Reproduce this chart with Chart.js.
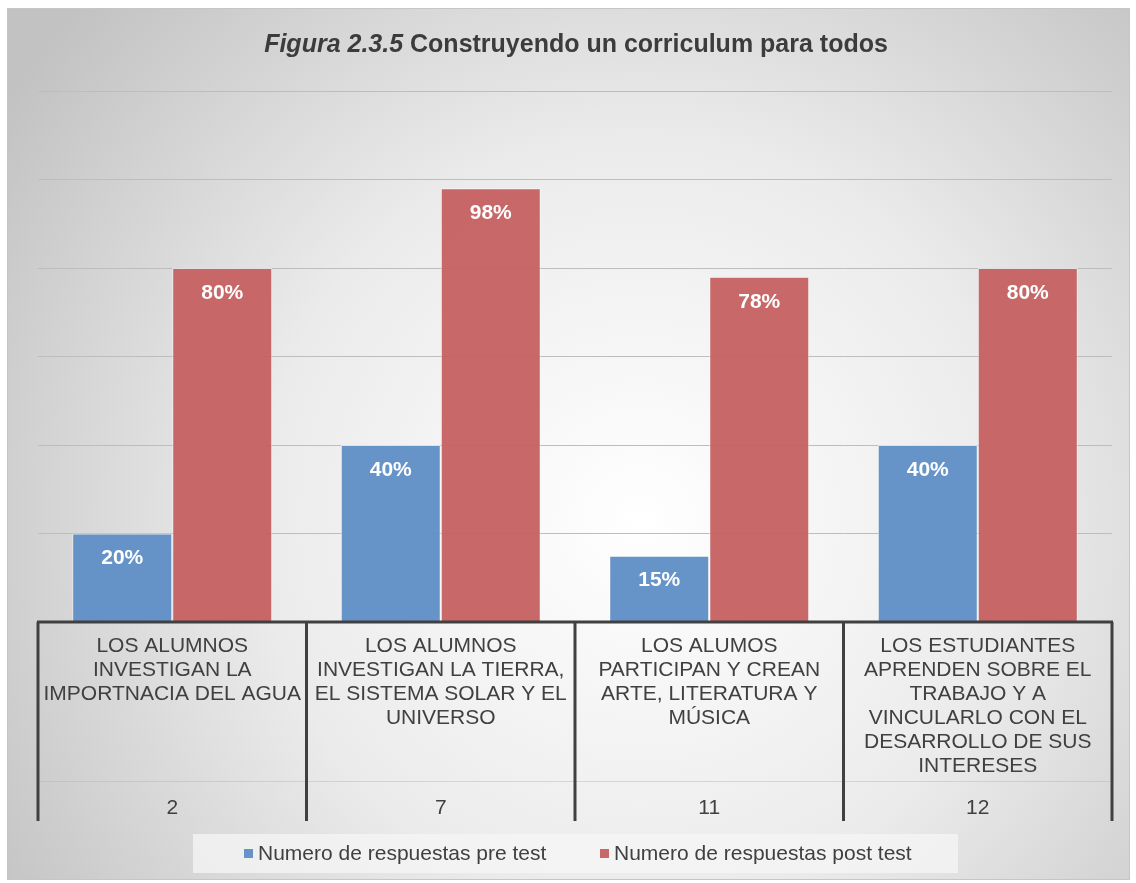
<!DOCTYPE html>
<html>
<head>
<meta charset="utf-8">
<script src="https://cdn.jsdelivr.net/npm/chart.js@4.4.0/dist/chart.umd.min.js"></script>
<style>
  html, body { margin: 0; padding: 0; background: #fff; }
  #wrap { width: 1136px; height: 883px; position: relative; }
</style>
</head>
<body>
<div id="wrap"><canvas id="chart" width="1136" height="883"></canvas></div>
<script>
// ---- data ----
const categories = [
  ["LOS ALUMNOS", "INVESTIGAN LA", "IMPORTNACIA DEL AGUA"],
  ["LOS ALUMNOS", "INVESTIGAN LA TIERRA,", "EL SISTEMA SOLAR Y EL", "UNIVERSO"],
  ["LOS ALUMOS", "PARTICIPAN Y CREAN", "ARTE, LITERATURA Y", "MÚSICA"],
  ["LOS ESTUDIANTES", "APRENDEN SOBRE EL", "TRABAJO Y A", "VINCULARLO CON EL", "DESARROLLO DE SUS", "INTERESES"]
];
const groupNumbers = ["2", "7", "11", "12"];
const preTest = [0.20, 0.40, 0.15, 0.40];
const postTest = [0.80, 0.98, 0.78, 0.80];
const seriesNames = ["Numero de respuestas pre test", "Numero de respuestas post test"];
const yTicks = [0, 0.2, 0.4, 0.6, 0.8, 1.0, 1.2];

const BLUE = "rgba(98,145,198,0.97)";
const RED = "rgba(197,96,96,0.95)";
const TEXT = "#404040";
const FONT = '"Liberation Sans", Arial, sans-serif';

// frame + gradient background
const backgroundPlugin = {
  id: "bg",
  beforeDraw(chart) {
    const ctx = chart.ctx;
    ctx.save();
    ctx.fillStyle = "#fff";
    ctx.fillRect(0, 0, chart.width, chart.height);
    const g = ctx.createRadialGradient(640, 520, 0, 640, 520, 760);
    g.addColorStop(0, "#ffffff");
    g.addColorStop(0.5, "#ebebeb");
    g.addColorStop(1, "#c2c2c2");
    ctx.fillStyle = g;
    ctx.fillRect(7, 8, 1123, 872);
    ctx.strokeStyle = "#c6c6c6";
    ctx.lineWidth = 1;
    ctx.strokeRect(7.5, 8.5, 1122, 871);

    // title (mixed italic / bold)
    const a = "Figura 2.3.5";
    const b = " Construyendo un corriculum para todos";
    ctx.fillStyle = "#3c3c3c";
    ctx.textBaseline = "middle";
    ctx.font = "italic bold 25px " + FONT;
    const wa = ctx.measureText(a).width;
    ctx.font = "bold 25px " + FONT;
    const wb = ctx.measureText(b).width;
    let x = 576 - (wa + wb) / 2;
    ctx.font = "italic bold 25px " + FONT;
    ctx.textAlign = "left";
    ctx.fillText(a, x, 45);
    ctx.font = "bold 25px " + FONT;
    ctx.fillText(b, x + wa, 45);

    // legend box
    ctx.fillStyle = "rgba(245,245,245,0.75)";
    ctx.fillRect(193, 834, 765, 39);
    ctx.restore();
  }
};

// bar value labels, category axis and legend
const overlayPlugin = {
  id: "overlay",
  afterDatasetsDraw(chart) {
    const ctx = chart.ctx;
    ctx.save();
    ctx.font = "bold 21px " + FONT;
    ctx.fillStyle = "#fff";
    ctx.textAlign = "center";
    ctx.textBaseline = "middle";
    chart.data.datasets.forEach((ds, i) => {
      chart.getDatasetMeta(i).data.forEach((bar, j) => {
        ctx.fillText(Math.round(ds.data[j] * 100) + "%", bar.x, bar.y + 25);
      });
    });

    const xs = chart.scales.x;
    const area = chart.chartArea;
    const half = (xs.getPixelForValue(1) - xs.getPixelForValue(0)) / 2;

    // axis line
    ctx.strokeStyle = TEXT;
    ctx.lineWidth = 3;
    ctx.beginPath();
    ctx.moveTo(area.left - 1, area.bottom);
    ctx.lineTo(area.right + 1, area.bottom);
    ctx.stroke();

    // faint divider between the two label levels
    ctx.strokeStyle = "rgba(180,180,180,0.45)";
    ctx.lineWidth = 1;
    ctx.beginPath();
    ctx.moveTo(area.left, 781.5);
    ctx.lineTo(area.right, 781.5);
    ctx.stroke();

    // separators
    ctx.strokeStyle = TEXT;
    ctx.lineWidth = 3;
    for (let i = 0; i <= categories.length; i++) {
      const px = xs.getPixelForValue(i) - half;
      ctx.beginPath();
      ctx.moveTo(px, area.bottom);
      ctx.lineTo(px, 821);
      ctx.stroke();
    }

    // labels
    ctx.fillStyle = TEXT;
    ctx.font = "21px " + FONT;
    categories.forEach((lines, i) => {
      const cx = xs.getPixelForValue(i);
      lines.forEach((t, k) => ctx.fillText(t, cx, 646 + k * 24));
      ctx.fillText(groupNumbers[i], cx, 808);
    });

    // legend
    ctx.textAlign = "left";
    const items = [
      { x: 244, color: BLUE, label: seriesNames[0] },
      { x: 600, color: RED, label: seriesNames[1] }
    ];
    items.forEach(it => {
      ctx.fillStyle = it.color;
      ctx.fillRect(it.x, 849, 9, 9);
      ctx.fillStyle = TEXT;
      ctx.fillText(it.label, it.x + 14, 854);
    });
    ctx.restore();
  }
};

new Chart(document.getElementById("chart"), {
  type: "bar",
  data: {
    labels: groupNumbers,
    datasets: [
      { label: seriesNames[0], data: preTest, backgroundColor: BLUE,
        borderColor: "rgba(255,255,255,0.55)", borderWidth: 1, borderSkipped: "bottom" },
      { label: seriesNames[1], data: postTest, backgroundColor: RED,
        borderColor: "rgba(255,255,255,0.55)", borderWidth: 1, borderSkipped: "bottom" }
    ]
  },
  options: {
    responsive: false,
    animation: false,
    layout: { padding: { left: 38, right: 24, top: 91, bottom: 253 } },
    datasets: { bar: { categoryPercentage: 0.745, barPercentage: 1.0 } },
    plugins: {
      legend: { display: false },
      title: { display: false },
      tooltip: { enabled: false }
    },
    scales: {
      x: {
        ticks: { display: false },
        grid: { display: false },
        border: { display: false }
      },
      y: {
        min: yTicks[0],
        max: yTicks[yTicks.length - 1],
        afterBuildTicks: (s) => { s.ticks = yTicks.map(v => ({ value: v })); },
        ticks: { display: false },
        grid: { color: "#bdbdbd", lineWidth: 1, drawTicks: false },
        border: { display: false }
      }
    }
  },
  plugins: [backgroundPlugin, overlayPlugin]
});
</script>
</body>
</html>
